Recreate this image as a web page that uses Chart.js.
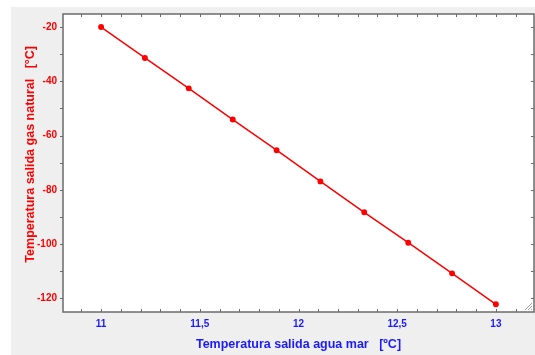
<!doctype html>
<html lang="es">
<head>
<meta charset="utf-8"/>
<title>Temperatura salida gas natural</title>
<script src="https://cdn.jsdelivr.net/npm/chart.js@4.4.0/dist/chart.umd.min.js"></script>
<style>
  html,body{margin:0;padding:0;background:#fff}
  .panel{position:absolute;left:11px;top:7px;width:524px;height:348px;background:#efefef}
</style>
</head>
<body>
<div class="panel"><canvas id="c" width="524" height="348"></canvas></div>
<script>
  // temperatura salida agua mar [ºC]
  const aguaMar = [11, 11.222, 11.444, 11.667, 11.889, 12.111, 12.333, 12.556, 12.778, 13];
  // temperatura salida gas natural [°C]
  const gasNatural = [-20, -31.4, -42.6, -54.1, -65.4, -76.9, -88.3, -99.5, -110.8, -122.2];

  const xTicks = [10.9, 11, 11.1, 11.2, 11.3, 11.4, 11.5, 11.6, 11.7, 11.8, 11.9, 12, 12.1, 12.2, 12.3, 12.4, 12.5, 12.6, 12.7, 12.8, 12.9, 13, 13.1];
  const yTicks = [-120, -110, -100, -90, -80, -70, -60, -50, -40, -30, -20];

  const fmt = v => String(v).replace('.', ',');
  const isMajorX = v => Math.abs(v * 2 - Math.round(v * 2)) < 1e-6;
  const isMajorY = v => v % 20 === 0;

  // sin relleno extra por las etiquetas de los extremos
  const noPad = s => { s.paddingTop = 0; s.paddingBottom = 0; s.paddingLeft = 0; s.paddingRight = 0; };

  // marco y marcas de escala en los cuatro lados
  const frame = {
    id: 'frame',
    afterDraw(chart) {
      const {ctx, chartArea: a, scales: {x, y}} = chart;
      ctx.save();
      ctx.strokeStyle = '#6b6b6b';
      ctx.lineWidth = 1;
      ctx.beginPath();
      x.ticks.forEach(t => {
        const px = Math.round(x.getPixelForValue(t.value)) + 0.5;
        ctx.moveTo(px, a.bottom); ctx.lineTo(px, a.bottom - 3);
        ctx.moveTo(px, a.top); ctx.lineTo(px, a.top + 3);
      });
      y.ticks.forEach(t => {
        const py = Math.round(y.getPixelForValue(t.value)) + 0.5;
        ctx.moveTo(a.left, py); ctx.lineTo(a.left - 3, py);
        ctx.moveTo(a.right, py); ctx.lineTo(a.right - 3, py);
      });
      ctx.stroke();
      ctx.lineWidth = 1.5;
      ctx.strokeRect(a.left, a.top, a.right - a.left, a.bottom - a.top);
      // agarradera de la esquina
      ctx.strokeStyle = '#a0a0a0';
      ctx.lineWidth = 1;
      ctx.beginPath();
      for (let i = 3; i <= 9; i += 3) {
        ctx.moveTo(a.right - 2, a.bottom - i); ctx.lineTo(a.right - i, a.bottom - 2);
      }
      ctx.stroke();
      ctx.restore();
    }
  };

  const plotBg = {
    id: 'plotBg',
    beforeDraw(chart) {
      const {ctx, chartArea: a} = chart;
      ctx.save();
      ctx.fillStyle = '#fff';
      ctx.fillRect(a.left, a.top, a.right - a.left, a.bottom - a.top);
      ctx.restore();
    }
  };

  new Chart(document.getElementById('c'), {
    type: 'scatter',
    data: {
      datasets: [{
        data: aguaMar.map((v, i) => ({x: v, y: gasNatural[i]})),
        showLine: true,
        borderColor: '#ff0000',
        backgroundColor: '#ff0000',
        borderWidth: 1.5,
        pointRadius: 2.2,
        pointStyle: 'circle'
      }]
    },
    options: {
      responsive: false,
      animation: false,
      layout: {autoPadding: false, padding: {top: 7, right: 1, left: 0, bottom: 0}},
      plugins: {legend: {display: false}, tooltip: {enabled: false}},
      scales: {
        x: {
          type: 'linear',
          min: 10.807, max: 13.193,
          afterBuildTicks: s => { s.ticks = xTicks.map(v => ({value: v})); },
          afterFit: s => { s.height = 43; noPad(s); },
          grid: {display: false, drawTicks: false},
          border: {display: false},
          ticks: {
            color: '#1a1aff', padding: 6, maxRotation: 0, autoSkip: false,
            font: {family: 'Liberation Sans, Arial, sans-serif', size: 10, weight: 'bold'},
            callback: v => isMajorX(v) ? fmt(+v.toFixed(1)) : ''
          },
          title: {
            display: true, text: 'Temperatura salida agua mar   [ºC]', color: '#1a1aff',
            font: {family: 'Liberation Sans, Arial, sans-serif', size: 12.5, weight: 'bold'},
            padding: {top: 0, bottom: 3}
          }
        },
        y: {
          min: -125.05, max: -15.2,
          afterBuildTicks: s => { s.ticks = yTicks.map(v => ({value: v})); },
          afterFit: s => { s.width = 52; noPad(s); },
          grid: {display: false, drawTicks: false},
          border: {display: false},
          ticks: {
            color: '#ff0000', padding: 6, autoSkip: false,
            font: {family: 'Liberation Sans, Arial, sans-serif', size: 10, weight: 'bold'},
            callback: v => isMajorY(v) ? String(v) : ''
          },
          title: {
            display: true, text: '     Temperatura salida gas natural   [°C]', color: '#ff0000',
            font: {family: 'Liberation Sans, Arial, sans-serif', size: 12.5, weight: 'bold'},
            padding: {top: 12, bottom: 0}
          }
        }
      }
    },
    plugins: [plotBg, frame]
  });
</script>
</body>
</html>
